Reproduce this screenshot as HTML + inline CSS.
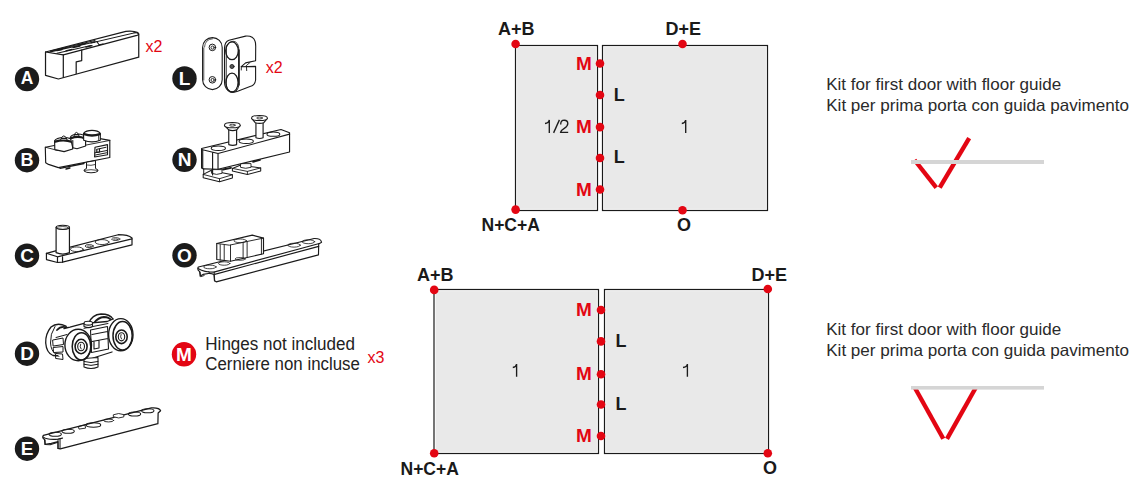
<!DOCTYPE html>
<html><head><meta charset="utf-8">
<style>
html,body{margin:0;padding:0;background:#fff;width:1148px;height:489px;overflow:hidden;}
svg{position:absolute;left:0;top:0;}
text{font-family:"Liberation Sans",sans-serif;}
.lb{font-weight:bold;font-size:18px;fill:#1a1a1a;}
.lm{font-weight:bold;font-size:18px;fill:#e30613;}
.cl{font-weight:bold;font-size:19px;fill:#fff;}

.kt{font-size:16.5px;fill:#2a2a2a;}
.num{font-size:17px;fill:#333;}
.red{fill:#e30613;}
</style></head><body>
<svg width="1148" height="489" viewBox="0 0 1148 489">

<!-- PRODUCT DRAWINGS -->
<g fill="none" stroke="#1a1a1a" stroke-linejoin="round" stroke-linecap="round">
<!-- A -->
<g transform="translate(40,25) scale(0.12267)" stroke-width="10">
<path fill="#fff" d="M45,220 L700,52 Q760,45 798,62 Q808,70 805,80 L805,262 L150,440 L45,410 Z"/>
<path d="M45,220 L190,243 L790,85 Q805,80 805,78"/>
<path d="M190,243 L190,425"/>
<path d="M340,205 L340,290 L295,300 L295,395"/>
<path d="M765,62 Q790,62 800,70" stroke-width="7"/>
</g>
<g stroke-width="1.05">
<path d="M49,52.3 L97,41.6 L99,44.8 L103,43.9 M57,53.3 L91,45.6 M50.5,51 L95,40.6"/>
<path d="M57,50.5 L62,49.5 M66,50.8 L72,49.3 M73,47.5 L80,46 M79,45 L86,43.4 M86,47 L92,45.6 M91,42.8 L95,42" stroke-width="1.3"/>
<path d="M97,41.6 L136,32.5" stroke-width="1"/>
</g>
<!-- L -->
<g stroke-width="1.1">
<rect x="202.6" y="37.6" width="19.6" height="52" rx="9.8" ry="9.8"/>
<path d="M204.5,47 Q205,39.2 212.5,38.8 M203.8,80 L203.8,48" stroke-width="0.7"/>
<circle cx="212.4" cy="47.4" r="3.3" stroke-width="1"/><circle cx="212.6" cy="47.6" r="1.6" stroke-width="0.9"/>
<circle cx="212.4" cy="79.8" r="3.3" stroke-width="1"/><circle cx="212.6" cy="80" r="1.6" stroke-width="0.9"/>
<path fill="#fff" d="M229,40.2 L245.6,36.1 Q253,35.5 255,41 Q255.8,43 255.7,47 L255.6,60.8 L245.6,62.9 L241.3,66.7 L255.6,66.4 L255.6,80 Q255,85.5 250,86.5 L237.7,91.2 Q231.5,93.5 228,90.5 Q224.6,87.5 224.5,82 L224.5,48 Q224.8,41.5 229,40.2 Z"/>
<path d="M226.5,46 Q229,41.2 233,41.2 Q238.8,41.8 238.9,50 L238.9,84 Q238.5,91.5 233,92.3 Q226.6,92 226.2,84 Z" stroke-width="0.9"/>
<path d="M238.9,50 L238.9,85" stroke-width="1.6"/>
<ellipse cx="232" cy="50.8" rx="6.3" ry="8.9" stroke-width="1.3"/>
<ellipse cx="232" cy="82.6" rx="6.1" ry="9.4" stroke-width="1.3"/>
<circle cx="232" cy="66.5" r="2.1" fill="#555" stroke-width="0.8"/>
<path d="M241.3,66.5 L241.3,70 M246.4,65.5 L246.7,70.6 M247,65 L250,62.5" stroke-width="0.9"/>
</g>
<!-- B -->
<g stroke-width="1.15">
<path fill="#fff" d="M45.3,147.2 L54.3,145.5 L100,138.6 L109.8,140.4 L109.8,157.5 L58.4,167.6 L48.5,164.4 L45.7,162.7 Z"/>
<path d="M45.3,147.2 L58,150.5 L110,140.4" stroke-width="0.9"/>
<path d="M60,168.3 L84,163.5 M66,169 L70,168" stroke-width="1.3"/>
<!-- nut1 -->
<path fill="#fff" d="M54.6,140.8 Q56,137.8 64,137.5 Q71.5,137.8 72.7,140.8 L72.7,149 L64.1,151.6 L54.8,149.6 Z"/>
<path d="M55.3,141.6 Q64,139 72.2,142" stroke-width="2.3"/>
<path fill="#fff" d="M60.6,139.8 Q61.6,136 63.8,135.9 Q66.1,136 67.1,139.8 Z" stroke-width="1"/>
<path d="M61.5,138.3 L66.3,138.3" stroke-width="1.2"/>
<!-- nut2 -->
<path fill="#fff" d="M70.3,137.3 Q72,134.2 78,134 Q84,134.2 85.6,137.3 L85.6,146 L77,148.7 L72.8,147.8 Z"/>
<path d="M71,138.3 Q78,135.5 85,138.5" stroke-width="2.3"/>
<path fill="#fff" d="M73.9,136 Q74.8,132.5 76.4,132.4 Q78.2,132.5 79.1,136 Z" stroke-width="1"/>
<path d="M74.6,134.7 L78.4,134.7" stroke-width="1.2"/>
<path d="M72.8,140.5 L72.8,147.8" stroke-width="1.1"/>
<!-- nut3 -->
<path fill="#fff" d="M83.5,133.4 Q86,130.4 92,130.4 Q98,130.4 100.3,133.4 L100.3,140.3 Q92,143.4 83.7,140.3 Z"/>
<path d="M84.2,134.2 Q92,136.8 99.8,134.2" stroke-width="2.3"/>
<path d="M98.5,135 L98.7,140.5" stroke-width="0.8"/>
<!-- slot -->
<path d="M95,147.3 L107.5,144.6 L107.5,154.7 L94.6,157 Z" stroke-width="1.15"/>
<path d="M96.8,149.3 L106,147.3 M95,152.8 L107,150.5 M95.5,155 L106.5,152.8" stroke-width="1"/>
<path d="M96.8,149.5 L96.8,152.5 L99.5,152 L99.5,149" stroke-width="1.2"/>
<!-- bolt -->
<path fill="#fff" d="M86.5,162.5 L86.5,168.5 Q83.5,169.5 84,171 Q86,172.8 91,172.8 Q96.5,172.8 98,171 Q98.5,169.5 95.5,168.5 L95.5,161 Z" stroke-width="1"/>
<path d="M84.5,170.3 Q91,169 97.5,170.3 M86.5,165 Q91,166 95.5,164.5" stroke-width="0.8"/>
</g>
<!-- C -->
<g transform="translate(40,220) scale(0.092)" stroke-width="13">
<path fill="#fff" d="M70,362 L170,335 L850,160 Q960,160 1000,195 L1000,270 L245,458 L190,462 L70,430 Z"/>
<path d="M70,362 L190,400 L1000,205 M190,400 L190,460 M245,400 L245,458"/>
<ellipse cx="400" cy="318" rx="70" ry="25" stroke-width="9"/>
<ellipse cx="535" cy="283" rx="45" ry="16" stroke-width="9"/>
<ellipse cx="535" cy="287" rx="22" ry="7" stroke-width="5"/>
<ellipse cx="675" cy="240" rx="75" ry="27" stroke-width="9"/>
<ellipse cx="823" cy="207" rx="45" ry="15" stroke-width="9"/>
<ellipse cx="823" cy="211" rx="22" ry="7" stroke-width="5"/>
<path fill="#fff" d="M175,80 L175,355 Q248,385 320,355 L320,80 Z"/>
<ellipse cx="248" cy="80" rx="72" ry="23" fill="#fff"/>
<ellipse cx="248" cy="86" rx="60" ry="15" stroke-width="8"/>
</g>
<!-- D -->
<g stroke-width="1.2">
<!-- back left wheel -->
<path fill="#fff" d="M66,326 Q57,322 51,327 Q45.3,334 45.7,343 Q46.5,353 53,355.5 L61,356 L68,345 Z" stroke-width="1.3"/>
<path d="M55,326.5 Q50,334 50.5,343 Q51,351 55.5,354" stroke-width="1"/>
<path d="M57,330 Q61,325.5 67,327.5" stroke-width="1.8"/>
<!-- top back wheel -->
<path fill="#fff" d="M88.6,323.5 Q92,314.3 101,314 Q110,314 113,319 L106,325 Z" stroke-width="1.3"/>
<path d="M94,323 Q98,317.5 104,317 Q109,317 111.5,320.5" stroke-width="1.8"/>
<!-- body -->
<path fill="#fff" stroke="none" d="M62,329 L70,327.2 L83,323.6 L107.2,321.5 L113,319 L116,341 L112,352 L93,358 L75,360 L60,357 L54,351 Z"/>
<path d="M64,328.5 L70,327.2 L83,323.6 L107.2,321.5 L113,319 M112,352 L93,358" stroke-width="1.3"/>
<path d="M56,337.5 L67,334.5 M53,340 L63,338 L63.5,344.5 L53.5,346 Z M53.5,347.5 L63,346.5 L63,352 L54,352.5 Z M56,353.5 L62.5,354 L63,359.5 L56,358.5 Z" stroke-width="1"/>
<path d="M90.5,330 L107.5,326.5 L108.5,349 L91.5,352.5 Z M92,334.5 L107.5,331.5 M92,341.5 L108,338.5 M94,341 L94,349 L99,348 L99,340.2" stroke-width="1.1"/>
<path d="M84,328.3 L108,323.5" stroke-width="1"/>
<!-- bolt top -->
<path fill="#fff" d="M84,323.5 L84,326.5 Q88.5,328.8 92.5,326.5 L92.5,323.5 Z" stroke-width="1.1"/>
<ellipse cx="88.3" cy="323.2" rx="4.3" ry="1.9" fill="#fff" stroke-width="1.1"/>
<!-- bottom bolt -->
<path fill="#fff" d="M84,358.5 L84,367 Q91,370 98,367 L98,357.5 Z" stroke-width="1.1"/>
<path d="M84,361.5 Q91,363.8 98,361.5 M84,364.3 Q91,366.6 98,364.3" stroke-width="1"/>
<!-- front right wheel -->
<ellipse cx="120.8" cy="334.7" rx="12.2" ry="16.1" fill="#fff" stroke-width="1.4"/>
<ellipse cx="122.6" cy="335.8" rx="9.6" ry="14.2" stroke-width="1.5"/>
<ellipse cx="121.5" cy="336.8" rx="5.7" ry="6.8" stroke-width="1.6"/>
<ellipse cx="121.5" cy="336.8" rx="3.2" ry="4.1" stroke-width="1.1"/>
<path d="M121,334.5 Q119.8,337 121.5,339" stroke-width="0.9"/>
<!-- front left wheel -->
<ellipse cx="78.2" cy="345" rx="13.3" ry="15.7" fill="#fff" stroke-width="1.4"/>
<ellipse cx="81.5" cy="346.4" rx="9.3" ry="13.6" stroke-width="1.5"/>
<ellipse cx="81.1" cy="346.5" rx="6" ry="7.2" stroke-width="1.6"/>
<ellipse cx="81.1" cy="346.5" rx="3.4" ry="4.3" stroke-width="1.1"/>
<path d="M80.6,344.2 Q79.4,346.8 81.1,349" stroke-width="0.9"/>
</g>
<!-- E -->
<g transform="translate(40,400) scale(0.1125)" stroke-width="11">
<path fill="#fff" d="M30,315 L990,70 Q1060,65 1072,95 L1050,115 L1048,210 L180,435 L160,430 L160,370 L100,385 L45,395 L40,350 Q15,335 30,315 Z"/>
<path d="M30,330 Q60,355 160,348 L200,338"/>
<path d="M160,348 L160,432 M178,345 L178,428 M45,355 L45,395 L90,398 L160,375" stroke-width="9"/>
<ellipse cx="135" cy="305" rx="55" ry="18" stroke-width="9.5"/>
<ellipse cx="250" cy="278" rx="55" ry="18" stroke-width="9.5"/>
<ellipse cx="475" cy="222" rx="65" ry="20" stroke-width="9.5"/>
<path d="M345,235 L400,222 L405,250 L350,258 Z" stroke-width="8"/>
<ellipse cx="610" cy="182" rx="45" ry="13" stroke-width="8"/>
<path fill="#fff" d="M655,130 Q700,110 745,130 L745,150 Q700,170 655,150 Z" stroke-width="8"/>
<ellipse cx="840" cy="125" rx="55" ry="18" stroke-width="9.5"/>
<ellipse cx="958" cy="95" rx="55" ry="18" stroke-width="9.5"/>
</g>
<!-- N -->
<g stroke-width="1.05">
<path fill="#fff" d="M232.4,168.4 L240.1,165.3 L260.7,167.9 L260.7,171 L247.4,174.4 L232.4,171 Z"/>
<path d="M232.4,168.4 L247.4,171.4 L260.7,167.9 M247.4,171.4 L247.4,174.4" stroke-width="0.9"/>
<path fill="#fff" d="M240.5,164 L240.5,167.3 Q245.5,169.3 251,167.3 L251,164 Z" stroke-width="0.9"/>
<path d="M253,161.8 L260,160 M223,169.5 L231,167.8" stroke-width="1.8"/>
<path fill="#fff" d="M203.2,174.4 L210.9,170.5 L232.4,174.8 L232.4,178 L219.5,181.7 L203.2,177.8 Z"/>
<path d="M203.2,174.4 L219.5,178.7 L232.4,174.8 M219.5,178.7 L219.5,181.7" stroke-width="0.9"/>
<path fill="#fff" d="M211.5,170 L211.5,173.3 Q216.5,175.5 222,173.3 L222,170 Z" stroke-width="0.9"/>
</g>
<g transform="translate(198,112) scale(0.14306)" stroke-width="8">
<path fill="#fff" d="M25,255 L580,122 L640,145 L640,280 L140,400 L40,398 L25,390 Z"/>
<path d="M25,390 L40,400 L40,435" stroke-width="7"/>
<path d="M25,262 L140,290 L640,155 M140,290 L140,400 M102,282 L102,440 M33,262 L33,388" />
<ellipse cx="142" cy="253" rx="50" ry="16" stroke-width="7"/>
<ellipse cx="337" cy="205" rx="50" ry="16" stroke-width="7"/>
<ellipse cx="527" cy="155" rx="45" ry="15" stroke-width="7"/>
<path fill="#fff" d="M215,120 L215,228 Q243,238 270,228 L270,120 Z"/>
<path fill="#fff" d="M185,95 Q240,70 295,95 L270,125 Q243,135 215,125 Z"/>
<ellipse cx="240" cy="92" rx="55" ry="18" stroke-width="7" fill="#fff"/>
<ellipse cx="240" cy="92" rx="20" ry="7" stroke-width="6"/>
<path fill="#fff" d="M405,70 L405,180 Q430,190 455,180 L455,70 Z"/>
<path fill="#fff" d="M375,45 Q430,20 485,45 L460,75 Q430,85 400,75 Z"/>
<ellipse cx="430" cy="42" rx="55" ry="18" stroke-width="7" fill="#fff"/>
<ellipse cx="430" cy="42" rx="20" ry="7" stroke-width="6"/>
</g>
<!-- O -->
<g transform="translate(195,228) scale(0.11454)" stroke-width="10">
<path fill="#fff" d="M30,340 L1040,92 Q1100,90 1105,125 L1080,140 L1078,235 L185,470 L170,460 L165,405 L130,395 L70,405 L45,420 L40,380 Q15,360 30,340 Z"/>
<path d="M30,355 Q80,385 165,385 L1085,135 M172,405 L1080,160"/>
<path d="M168,385 L172,462 M45,385 L50,425 L80,415 M120,380 L130,400" stroke-width="8"/>
<ellipse cx="130" cy="340" rx="55" ry="16" stroke-width="7"/>
<ellipse cx="255" cy="310" rx="50" ry="15" stroke-width="7"/>
<ellipse cx="865" cy="150" rx="55" ry="17" stroke-width="7"/>
<ellipse cx="990" cy="120" rx="55" ry="17" stroke-width="7"/>
<path fill="#fff" d="M190,135 L500,62 L598,88 L598,225 L310,290 L190,275 Z"/>
<path d="M190,135 L300,150 L598,88 M255,150 L255,285 M220,145 L220,280 M310,150 L310,290 M420,125 L420,262 M455,120 L455,255 M580,92 L580,228" stroke-width="8"/>
<ellipse cx="395" cy="112" rx="55" ry="16" stroke-width="7"/>
<ellipse cx="395" cy="270" rx="45" ry="12" stroke-width="7"/>
</g>
</g>
<g font-family="Liberation Sans, sans-serif" fill="#e30613" font-size="16">
<text x="145.4" y="51.9">x2</text>
<text x="265.8" y="72.6">x2</text>
<text x="367.6" y="362.8" font-size="16">x3</text>
</g>
<g font-family="Liberation Sans, sans-serif" fill="#222" font-size="17.5">
<text x="205.3" y="349.6" textLength="149.7" lengthAdjust="spacingAndGlyphs">Hinges not included</text>
<text x="205.3" y="370.4" textLength="154.6" lengthAdjust="spacingAndGlyphs">Cerniere non incluse</text>
</g>
<!-- label circles -->
<g fill="#1b1b1b">
<circle cx="27" cy="79" r="12.2"/>
<circle cx="27" cy="160.2" r="12.2"/>
<circle cx="27" cy="255.7" r="12.2"/>
<circle cx="27" cy="353.7" r="12.2"/>
<circle cx="27" cy="448.7" r="12.2"/>
<circle cx="184.5" cy="78.4" r="12.2"/>
<circle cx="184.5" cy="159.8" r="12.2"/>
<circle cx="184.5" cy="255.3" r="12.2"/>
</g>
<circle cx="184" cy="354.3" r="12.2" fill="#e30613"/>
<g class="cl" text-anchor="middle">
<text x="27" y="83.7" textLength="12.6" lengthAdjust="spacingAndGlyphs">A</text>
<text x="27" y="165.8" textLength="13" lengthAdjust="spacingAndGlyphs">B</text>
<text x="27" y="262.2">C</text>
<text x="27" y="360.2">D</text>
<text x="27" y="455.2">E</text>
<text x="184.5" y="84.9">L</text>
<text x="184.5" y="166.3">N</text>
<text x="184.5" y="261.8">O</text>
<text x="184" y="360.8">M</text>
</g>

<!-- door diagram 1 -->
<g fill="#e9e9e9">
<rect x="517.1" y="47.1" width="78.8" height="161.8"/>
<rect x="604.1" y="47.1" width="161.8" height="161.8"/>
<rect x="435.6" y="291.1" width="161.3" height="160.8"/>
<rect x="606.1" y="291.1" width="160.8" height="160.8"/>
</g>
<g stroke="#1a1a1a" stroke-width="1.2" fill="none">
<rect x="515.5" y="45.5" width="82" height="165"/>
<rect x="602.5" y="45.5" width="165" height="165"/>
<rect x="434" y="289.5" width="164.5" height="164"/>
<rect x="604.5" y="289.5" width="164" height="164"/>
</g>
<g class="red">
<circle cx="515.6" cy="44" r="4.3"/>
<circle cx="682.5" cy="44" r="4.3"/>
<circle cx="515.6" cy="209.6" r="4.3"/>
<circle cx="682.5" cy="210.2" r="4.3"/>
<circle cx="600" cy="63.5" r="4.3"/>
<circle cx="600" cy="95" r="4.3"/>
<circle cx="600" cy="127.1" r="4.3"/>
<circle cx="600" cy="158" r="4.3"/>
<circle cx="600" cy="189.5" r="4.3"/>
<circle cx="434.2" cy="289.9" r="4.3"/>
<circle cx="767.8" cy="289" r="4.3"/>
<circle cx="434.2" cy="453.3" r="4.3"/>
<circle cx="767.8" cy="453.3" r="4.3"/>
<circle cx="601" cy="310" r="4.3"/>
<circle cx="601" cy="341.4" r="4.3"/>
<circle cx="601" cy="374.2" r="4.3"/>
<circle cx="601" cy="404.5" r="4.3"/>
<circle cx="601" cy="436" r="4.3"/>
</g>
<g class="lb">
<text x="498" y="35">A+B</text>
<text x="665.5" y="35">D+E</text>
<text x="481.5" y="230.7" textLength="58.4" lengthAdjust="spacingAndGlyphs">N+C+A</text>
<text x="677" y="230.5">O</text>
<text x="613.7" y="100.8">L</text>
<text x="613.7" y="163">L</text>
<text x="417" y="280.8">A+B</text>
<text x="751.5" y="280.9">D+E</text>
<text x="400.5" y="474.5" textLength="58.4" lengthAdjust="spacingAndGlyphs">N+C+A</text>
<text x="763" y="474.4">O</text>
<text x="615.5" y="346.6">L</text>
<text x="615.5" y="409.9">L</text>
</g>
<g class="lm">
<text x="576" y="69.8" textLength="15.8" lengthAdjust="spacingAndGlyphs">M</text>
<text x="576" y="133" textLength="15.8" lengthAdjust="spacingAndGlyphs">M</text>
<text x="576" y="196.3" textLength="15.8" lengthAdjust="spacingAndGlyphs">M</text>
<text x="576" y="315.9" textLength="15.8" lengthAdjust="spacingAndGlyphs">M</text>
<text x="576" y="379.9" textLength="15.8" lengthAdjust="spacingAndGlyphs">M</text>
<text x="576" y="441.6" textLength="15.8" lengthAdjust="spacingAndGlyphs">M</text>
</g>
<g fill="none" stroke="#1c1c1c" stroke-width="1.35" stroke-linecap="butt">
<path d="M545,123.5 Q548.6,123.2 549.3,119.9 L549.3,132.9"/>
<path d="M553.6,132.9 L559.4,119.9"/>
<path d="M560.7,124.6 Q560.6,120.3 564.3,120.2 Q567.8,120.2 567.8,123.6 Q567.8,126.3 564.3,128.3 Q560.8,130.4 560.5,132.3 L568.2,132.3" stroke-linejoin="round"/>
<path d="M681.8,123.5 Q685,123.2 685.7,120.1 L685.7,132.9"/>
<path d="M512.8,367.5 Q516,367.2 516.6,364.1 L516.6,376.7"/>
<path d="M683,367.5 Q686.7,367.2 687.4,364.1 L687.4,376.7"/>
</g>
<!-- check marks -->
<g stroke="#e30613" stroke-width="4.4" fill="none">
<line x1="914.5" y1="160" x2="936.3" y2="187.6"/>
<line x1="939.7" y1="187.6" x2="969.2" y2="138.2"/>
<line x1="915" y1="388" x2="943.3" y2="438.8"/>
<line x1="947" y1="438.8" x2="975.6" y2="388"/>
</g>
<rect x="911" y="160" width="133" height="4" fill="#d5d5d5"/>
<rect x="911" y="386" width="133" height="3.6" fill="#d5d5d5"/>
<g class="kt">
<text x="826.2" y="89.5" textLength="235.1" lengthAdjust="spacingAndGlyphs">Kit for first door with floor guide</text>
<text x="826.2" y="110.5" textLength="302.9" lengthAdjust="spacingAndGlyphs">Kit per prima porta con guida pavimento</text>
<text x="826.2" y="334.5" textLength="235.1" lengthAdjust="spacingAndGlyphs">Kit for first door with floor guide</text>
<text x="826.2" y="355.5" textLength="302.9" lengthAdjust="spacingAndGlyphs">Kit per prima porta con guida pavimento</text>
</g>
</svg>
</body></html>
